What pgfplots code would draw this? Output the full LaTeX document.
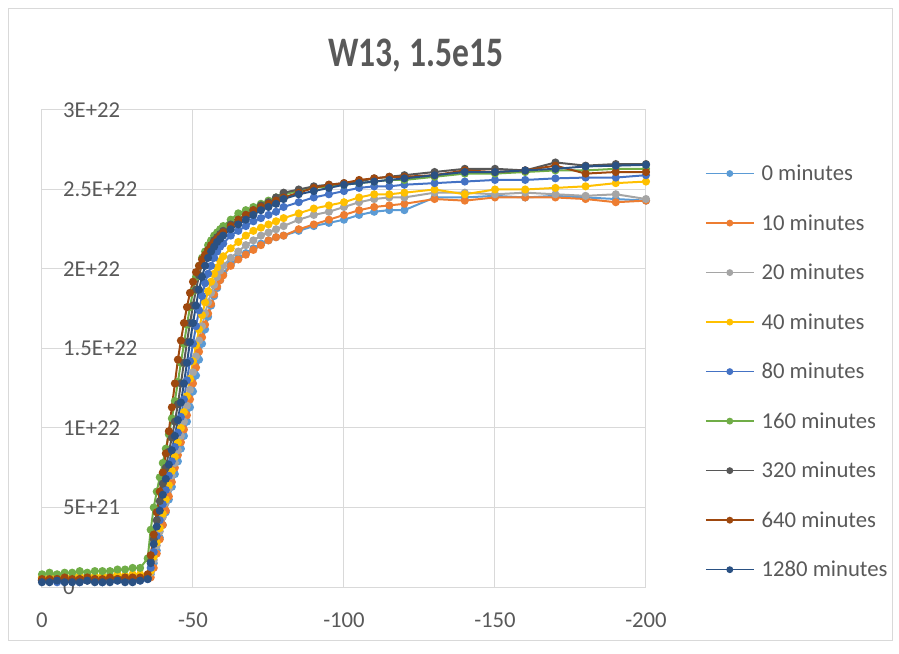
\documentclass[border=0pt]{standalone}
\usepackage{pgfplots}
\pgfplotsset{compat=1.18}
\usepackage{pgfplotstable}
\usepackage{graphicx}
\usepackage{fontspec}
\setmainfont{Carlito}
\definecolor{cA}{HTML}{5B9BD5}
\definecolor{cB}{HTML}{ED7D31}
\definecolor{cC}{HTML}{A5A5A5}
\definecolor{cD}{HTML}{FFC000}
\definecolor{cE}{HTML}{4472C4}
\definecolor{cF}{HTML}{70AD47}
\definecolor{cG}{HTML}{575757}
\definecolor{cH}{HTML}{9E480E}
\definecolor{cI}{HTML}{2A5183}
\definecolor{gridc}{HTML}{D9D9D9}
\definecolor{labc}{HTML}{595959}

\pgfplotstableread{
x s0 s10 s20 s40 s80 s160 s320 s640 s1280
0 0.04 0.05 0.06 0.06 0.04 0.08 0.04 0.05 0.03
-2.5 0.05 0.06 0.07 0.06 0.04 0.09 0.04 0.05 0.03
-5 0.04 0.05 0.06 0.07 0.03 0.08 0.05 0.05 0.04
-7.5 0.05 0.05 0.07 0.06 0.04 0.09 0.04 0.06 0.03
-10 0.04 0.06 0.06 0.07 0.04 0.09 0.04 0.05 0.03
-12.5 0.04 0.05 0.07 0.07 0.03 0.10 0.05 0.05 0.03
-15 0.05 0.05 0.07 0.06 0.04 0.09 0.04 0.06 0.04
-17.5 0.04 0.06 0.06 0.07 0.04 0.10 0.05 0.05 0.03
-20 0.05 0.05 0.07 0.07 0.03 0.10 0.04 0.05 0.03
-22.5 0.04 0.06 0.07 0.07 0.04 0.10 0.05 0.06 0.03
-25 0.05 0.05 0.06 0.08 0.04 0.11 0.05 0.05 0.04
-27.5 0.05 0.06 0.07 0.07 0.04 0.11 0.05 0.06 0.03
-30 0.05 0.06 0.07 0.08 0.04 0.12 0.05 0.06 0.03
-32.5 0.05 0.06 0.07 0.08 0.04 0.12 0.05 0.06 0.04
-35 0.05 0.06 0.07 0.07 0.05 0.18 0.06 0.08 0.05
-36 0.08 0.06 0.09 0.10 0.12 0.36 0.16 0.20 0.15
-37 0.15 0.12 0.17 0.19 0.22 0.50 0.30 0.33 0.27
-38 0.23 0.21 0.26 0.28 0.32 0.60 0.42 0.47 0.38
-39 0.31 0.30 0.35 0.37 0.42 0.69 0.54 0.60 0.48
-40 0.39 0.39 0.44 0.46 0.52 0.78 0.65 0.72 0.58
-41 0.47 0.48 0.53 0.55 0.61 0.87 0.75 0.84 0.68
-42 0.55 0.57 0.62 0.64 0.70 0.96 0.85 0.98 0.77
-43 0.63 0.66 0.70 0.73 0.79 1.06 0.94 1.13 0.86
-44 0.71 0.75 0.78 0.82 0.88 1.17 1.04 1.28 0.95
-45 0.79 0.83 0.86 0.91 0.97 1.29 1.15 1.43 1.05
-46 0.87 0.91 0.95 1.00 1.07 1.41 1.28 1.55 1.16
-47 0.95 0.99 1.04 1.10 1.18 1.53 1.41 1.66 1.28
-48 1.04 1.08 1.14 1.20 1.30 1.65 1.54 1.76 1.41
-49 1.13 1.18 1.24 1.31 1.42 1.76 1.66 1.85 1.54
-50 1.23 1.28 1.35 1.42 1.53 1.86 1.77 1.92 1.66
-51 1.33 1.38 1.45 1.52 1.64 1.95 1.87 1.98 1.77
-52 1.43 1.48 1.55 1.62 1.74 2.02 1.96 2.02 1.87
-53 1.53 1.57 1.64 1.71 1.83 2.07 2.03 2.06 1.95
-54 1.62 1.65 1.72 1.79 1.91 2.11 2.08 2.09 2.02
-55 1.70 1.72 1.79 1.86 1.97 2.15 2.12 2.12 2.07
-56 1.77 1.78 1.85 1.92 2.02 2.18 2.15 2.15 2.11
-57 1.83 1.84 1.90 1.97 2.07 2.21 2.18 2.17 2.14
-58 1.88 1.89 1.95 2.01 2.11 2.23 2.20 2.19 2.17
-59 1.93 1.93 1.99 2.05 2.14 2.25 2.22 2.21 2.19
-60 1.97 1.96 2.02 2.08 2.16 2.27 2.24 2.23 2.21
-62.5 2.03 2.02 2.07 2.13 2.21 2.31 2.28 2.27 2.25
-65 2.07 2.06 2.11 2.17 2.24 2.35 2.31 2.31 2.28
-67.5 2.10 2.09 2.15 2.21 2.27 2.37 2.34 2.34 2.31
-70 2.13 2.12 2.18 2.24 2.30 2.39 2.37 2.37 2.34
-72.5 2.16 2.15 2.21 2.26 2.32 2.41 2.40 2.39 2.37
-75 2.18 2.18 2.23 2.28 2.34 2.43 2.42 2.41 2.39
-77.5 2.20 2.20 2.25 2.30 2.36 2.45 2.45 2.43 2.41
-80 2.21 2.21 2.27 2.32 2.39 2.47 2.48 2.45 2.44
-85 2.24 2.25 2.31 2.35 2.42 2.49 2.50 2.48 2.47
-90 2.27 2.28 2.34 2.38 2.45 2.51 2.52 2.51 2.49
-95 2.29 2.31 2.36 2.40 2.47 2.52 2.53 2.53 2.51
-100 2.31 2.34 2.39 2.42 2.49 2.53 2.54 2.54 2.53
-105 2.34 2.37 2.42 2.45 2.51 2.54 2.55 2.56 2.54
-110 2.36 2.39 2.44 2.47 2.52 2.55 2.57 2.57 2.55
-115 2.37 2.40 2.45 2.47 2.52 2.56 2.58 2.58 2.56
-120 2.37 2.41 2.45 2.48 2.53 2.56 2.59 2.58 2.57
-130 2.45 2.44 2.48 2.50 2.54 2.58 2.61 2.59 2.59
-140 2.45 2.43 2.48 2.47 2.55 2.60 2.63 2.62 2.61
-150 2.46 2.45 2.47 2.50 2.56 2.60 2.63 2.61 2.61
-160 2.45 2.45 2.48 2.50 2.56 2.61 2.62 2.62 2.62
-170 2.46 2.45 2.47 2.51 2.57 2.62 2.67 2.65 2.63
-180 2.45 2.44 2.46 2.52 2.575 2.62 2.65 2.60 2.645
-190 2.44 2.42 2.47 2.54 2.575 2.63 2.66 2.61 2.65
-200 2.43 2.43 2.44 2.55 2.59 2.63 2.66 2.61 2.655
}\data

\begin{document}
\begin{tikzpicture}[x=1pt,y=1pt]
\path[use as bounding box] (0,0) rectangle (899,653);
\draw[gridc, line width=1pt] (8.5,12.5) rectangle (892.5,644.5);
\begin{axis}[
  at={(42pt,66pt)}, anchor=south west, scale only axis,
  width=604pt, height=477pt,
  xmin=-200, xmax=0, x dir=reverse, ymin=0, ymax=3,
  xtick={0,-50,-100,-150,-200}, xticklabels={0,-50,-100,-150,-200},
  ytick={0,0.5,1,1.5,2,2.5,3},
  yticklabels={0,5E+21,1E+22,1.5E+22,2E+22,2.5E+22,3E+22},
  major tick length=0pt,
  grid=major, major grid style={draw=gridc, line width=1pt},
  axis line style={draw=gridc, line width=1pt},
  tick label style={font=\fontsize{22.7}{24}\selectfont, text=labc, inner sep=0pt},
  xticklabel style={anchor=center, yshift=-33pt},
  yticklabel style={anchor=west, xshift=21pt},
  title={\scalebox{0.8}[1]{W13, 1.5e15}},
  title style={at={(0.619,1)}, anchor=center, yshift=48pt, font=\fontsize{42}{44}\selectfont\bfseries, text=labc},
  legend cell align=left,
  legend style={at={(1,1)}, anchor=north west, xshift=59pt, yshift=-55pt,
    draw=none, fill=none, inner sep=0pt, outer sep=0pt,
    row sep=32.4pt, column sep=7pt,
    font=\fontsize{22.7}{24}\selectfont, text=labc,
    nodes={inner sep=0pt}},
  legend image code/.code={\draw[#1, line width=1.6pt, mark size=2.6pt, mark repeat=2, mark phase=2] plot coordinates {(0pt,0pt) (24pt,0pt) (48pt,0pt)};},
  every axis plot/.append style={line width=2pt, mark=*, mark size=3pt, mark options={solid}},
]
\addplot[cA] table[x=x,y=s0] {\data};
\addplot[cB] table[x=x,y=s10] {\data};
\addplot[cC] table[x=x,y=s20] {\data};
\addplot[cD] table[x=x,y=s40] {\data};
\addplot[cE] table[x=x,y=s80] {\data};
\addplot[cF] table[x=x,y=s160] {\data};
\addplot[cG] table[x=x,y=s320] {\data};
\addplot[cH] table[x=x,y=s640] {\data};
\addplot[cI] table[x=x,y=s1280] {\data};
\legend{0 minutes,10 minutes,20 minutes,40 minutes,80 minutes,160 minutes,320 minutes,640 minutes,1280 minutes}
\end{axis}
\end{tikzpicture}
\end{document}
